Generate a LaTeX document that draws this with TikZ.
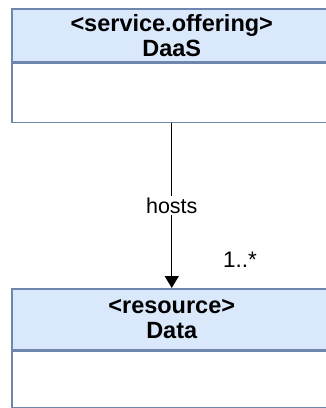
\documentclass[tikz,border=0pt]{standalone}
\usepackage{fontspec}
\setmainfont{Liberation Sans}
\usetikzlibrary{arrows.meta}
\definecolor{hfill}{HTML}{DAE8FC}
\definecolor{bord}{HTML}{6E86AE}
\begin{document}
\begin{tikzpicture}[x=1pt,y=-1pt,
  hdr/.style={draw=bord, fill=hfill, line width=1.5pt, minimum width=320pt, inner sep=0pt, align=center, font=\fontsize{23.5}{25}\selectfont\bfseries},
  body/.style={draw=bord, fill=white, line width=1.5pt, minimum width=320pt, inner sep=0pt},
  lbl/.style={font=\fontsize{21.5}{24}\selectfont, fill=white, inner sep=2pt},
  mult/.style={font=\fontsize{22.5}{24}\selectfont, inner sep=0pt},
  conn/.style={line width=1.4pt, -{Triangle[length=12pt, width=14pt]}}]
\useasboundingbox (0,0) rectangle (326,408);
\clip (0,0) rectangle (326,408);
\node[hdr, minimum height=53pt, anchor=north west] (t1) at (11,8) {<service.offering>\\DaaS};
\node[body, minimum height=59pt, anchor=north] (t2) at (t1.south) {};
\node[hdr, minimum height=61pt, anchor=north west] (b1) at (11,288) {<resource>\\Data};
\node[body, minimum height=56pt, anchor=north] (b2) at (b1.south) {};
\draw[conn] (t2.south) -- node[lbl] (h) {hosts} (b1.north);
\node[mult, anchor=base west] (m) at (223,267) {1..*};
\end{tikzpicture}
\end{document}
